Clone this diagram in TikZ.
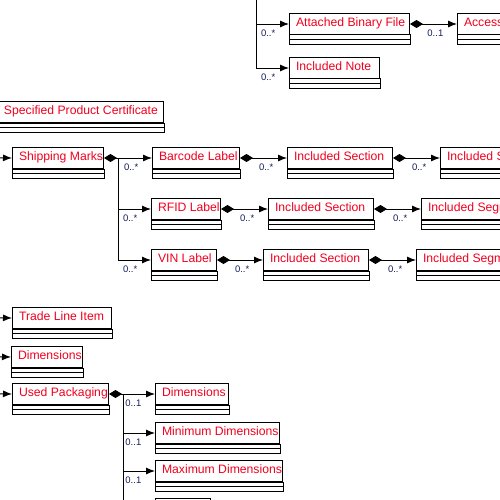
\documentclass[tikz,border=0pt]{standalone}
\usepackage{fontspec}
\setmainfont{Liberation Sans}
\usetikzlibrary{arrows.meta}
\definecolor{classred}{RGB}{240,0,30}
\definecolor{multnavy}{RGB}{20,30,90}
\tikzset{
  cls/.style={draw=black, line width=1pt, text=classred, anchor=north west,
    minimum height=21pt, inner xsep=6.5pt, inner ysep=0pt,
    font=\fontsize{12.2}{14}\selectfont},
  boxline/.style={draw=black, line width=1pt},
  link/.style={line width=0.9pt},
  assoc/.style={link, -{Latex[length=9pt,width=7pt]}},
  comp/.style={link, {Diamond[length=13pt,width=8pt]}-{Latex[length=9pt,width=7pt]}},
  mult/.style={text=multnavy, font=\fontsize{9.5}{11}\selectfont, anchor=east, inner sep=0pt},
}
% class box: header with the name (left aligned), two empty compartments below
\newcommand{\umlclass}[5]{%
  \node[cls] (#1) at (#2,#3) {\makebox[\dimexpr#4pt-13pt\relax][l]{\strut#5}};
  \draw[boxline] (#1.south west) rectangle ([yshift=-9.5pt]#1.south east);
  \draw[boxline] ([yshift=-4.75pt]#1.south west) -- ([yshift=-4.75pt]#1.south east);
}
\newcommand{\multlabel}[3]{%
  \node[mult] (#1) at ([xshift=-13.5pt,yshift=-9.5pt]#2.west) {#3};
}
\begin{document}
\begin{tikzpicture}[x=1pt,y=-1pt]
\useasboundingbox (0,0) rectangle (500,500);

% classes
\umlclass{abf}{289}{13}{120}{Attached Binary File}
\umlclass{acc}{457}{13}{140}{Access Binary File}
\umlclass{note}{289}{57}{90}{Included Note}
\umlclass{spc}{-4}{101}{167}{\hspace*{1pt}Specified Product Certificate}
\umlclass{ship}{12}{147}{91}{Shipping Marks}
\umlclass{bar}{152}{147}{87}{Barcode Label}
\umlclass{secA}{287}{147}{105}{Included Section}
\umlclass{segA}{440}{147}{130}{Included Segment}
\umlclass{rfid}{151}{198}{69}{RFID Label}
\umlclass{secB}{268}{198}{105}{Included Section}
\umlclass{segB}{421}{198}{130}{Included Segment}
\umlclass{vin}{151}{249}{65}{VIN Label}
\umlclass{secC}{263}{249}{105}{Included Section}
\umlclass{segC}{416}{249}{130}{Included Segment}
\umlclass{tli}{12}{307}{99}{Trade Line Item}
\umlclass{dimA}{11}{346}{71}{Dimensions}
\umlclass{pack}{12}{383}{96}{Used Packaging}
\umlclass{dimB}{155}{383}{73}{Dimensions}
\umlclass{mind}{155}{422}{124}{Minimum Dimensions}
\umlclass{maxd}{155}{460}{127}{Maximum Dimensions}
\umlclass{more}{155}{498}{55}{}

% fork points and off-page ends
\coordinate (topfork) at (256,-5);
\coordinate (shipfork) at ([xshift=14pt]ship.east);
\coordinate (packfork) at ([xshift=14pt]pack.east);
\coordinate (inShip) at (-20,157.5);
\coordinate (inTli) at (-20,317.5);
\coordinate (inDim) at (-20,356.5);
\coordinate (inPack) at (-20,393.5);

% incoming associations from the left
\draw[assoc] (inShip) -- (ship.west);
\draw[assoc] (inTli) -- (tli.west);
\draw[assoc] (inDim) -- (dimA.west);
\draw[assoc] (inPack) -- (pack.west);

% top group
\draw[assoc] (topfork) |- (abf.west);
\draw[assoc] (topfork) |- (note.west);
\draw[comp] (abf.east) -- (acc.west);
\multlabel{mAbf}{abf}{0..*}
\multlabel{mNote}{note}{0..*}
\multlabel{mAcc}{acc}{0..1}

% shipping marks group
\draw[comp] (ship.east) -- (bar.west);
\draw[assoc] (shipfork) |- (rfid.west);
\draw[assoc] (shipfork) |- (vin.west);
\draw[comp] (bar.east) -- (secA.west);
\draw[comp] (secA.east) -- (segA.west);
\draw[comp] (rfid.east) -- (secB.west);
\draw[comp] (secB.east) -- (segB.west);
\draw[comp] (vin.east) -- (secC.west);
\draw[comp] (secC.east) -- (segC.west);
\multlabel{mBar}{bar}{0..*}
\multlabel{mRfid}{rfid}{0..*}
\multlabel{mVin}{vin}{0..*}
\multlabel{mSecA}{secA}{0..*}
\multlabel{mSegA}{segA}{0..*}
\multlabel{mSecB}{secB}{0..*}
\multlabel{mSegB}{segB}{0..*}
\multlabel{mSecC}{secC}{0..*}
\multlabel{mSegC}{segC}{0..*}

% used packaging group
\draw[comp] (pack.east) -- (dimB.west);
\draw[assoc] (packfork) |- (mind.west);
\draw[assoc] (packfork) |- (maxd.west);
\draw[assoc] (packfork) |- (more.west);
\multlabel{mDimB}{dimB}{0..1}
\multlabel{mMind}{mind}{0..1}
\multlabel{mMaxd}{maxd}{0..1}
\end{tikzpicture}
\end{document}
